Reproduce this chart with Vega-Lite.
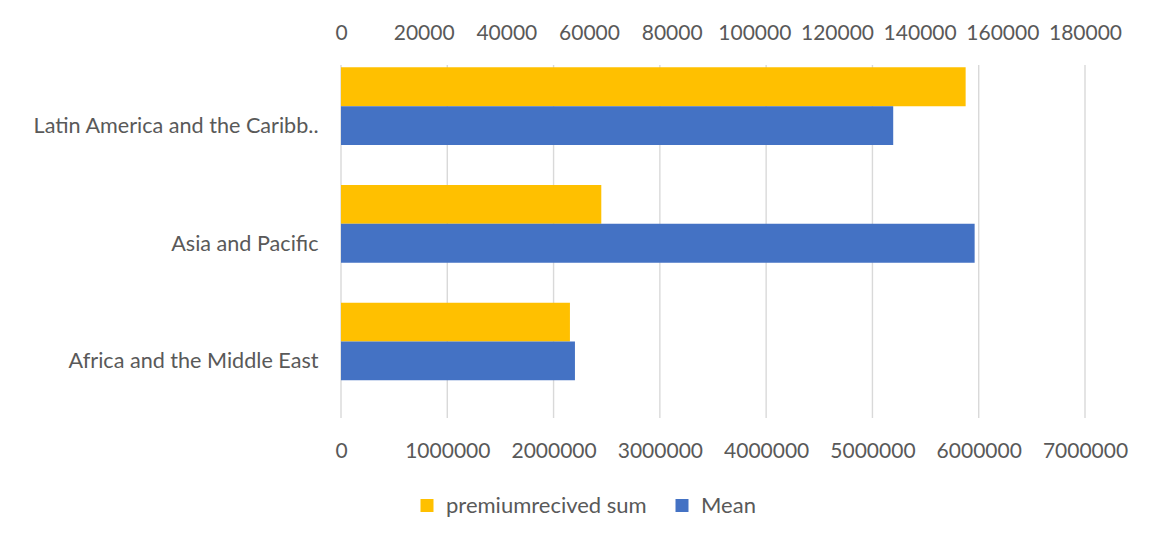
{
  "$schema": "https://vega.github.io/schema/vega-lite/v6.json",
  "width": 744,
  "height": 353,
  "autosize": {"type": "none"},
  "padding": {"left": 341, "top": 65, "right": 68, "bottom": 121},
  "background": "white",
  "config": {
    "view": {"stroke": null},
    "font": "Lato",
    "axis": {"labelFont": "Lato", "labelColor": "#595959", "labelFontSize": 21, "ticks": false, "domain": false}
  },
  "data": {
    "values": [
      {"region": "Latin America and the Caribbean", "series": "premiumrecived sum", "value": 5877000},
      {"region": "Latin America and the Caribbean", "series": "Mean", "value": 133600},
      {"region": "Asia and Pacific", "series": "premiumrecived sum", "value": 2449000},
      {"region": "Asia and Pacific", "series": "Mean", "value": 153300},
      {"region": "Africa and the Middle East", "series": "premiumrecived sum", "value": 2154000},
      {"region": "Africa and the Middle East", "series": "Mean", "value": 56600}
    ]
  },
  "encoding": {
    "y": {
      "field": "region",
      "type": "nominal",
      "sort": ["Latin America and the Caribbean", "Asia and Pacific", "Africa and the Middle East"],
      "scale": {"paddingInner": 0, "paddingOuter": 0},
      "axis": {
        "title": null,
        "labelPadding": 23,
        "labelLimit": 400,
        "labelFontSize": 21.6,
        "labelOffset": 3,
        "labelExpr": "datum.label == 'Latin America and the Caribbean' ? 'Latin America and the Caribb..' : datum.label"
      }
    },
    "yOffset": {
      "field": "series",
      "type": "nominal",
      "scale": {"domain": ["premiumrecived sum", "Mean"], "range": [2.3, 80]}
    },
    "color": {
      "field": "series",
      "type": "nominal",
      "scale": {"domain": ["premiumrecived sum", "Mean"], "range": ["#FFC000", "#4472C4"]},
      "legend": {
        "title": null,
        "orient": "none",
        "direction": "horizontal",
        "legendX": 75,
        "legendY": 429.5,
        "symbolType": "square",
        "symbolSize": 169,
        "symbolStrokeWidth": 0,
        "labelFont": "Lato",
        "labelFontSize": 22,
        "labelColor": "#595959",
        "labelLimit": 400,
        "columnPadding": 24,
        "labelOffset": 8
      }
    }
  },
  "layer": [
    {
      "mark": {"type": "rule", "color": "#D9D9D9", "strokeWidth": 1.4},
      "data": {"values": [{"g": 0}, {"g": 1000000}, {"g": 2000000}, {"g": 3000000}, {"g": 4000000}, {"g": 5000000}, {"g": 6000000}, {"g": 7000000}]},
      "encoding": {
        "x": {"field": "g", "type": "quantitative", "scale": {"domain": [0, 7000000], "nice": false}, "axis": null},
        "y": null, "yOffset": null, "color": null
      }
    },
    {
      "transform": [{"filter": "datum.series == 'premiumrecived sum'"}],
      "mark": {"type": "bar"},
      "encoding": {
        "x": {
          "field": "value",
          "type": "quantitative",
          "scale": {"domain": [0, 7000000], "nice": false},
          "axis": {
            "orient": "bottom",
            "title": null,
            "grid": false,
            "values": [0, 1000000, 2000000, 3000000, 4000000, 5000000, 6000000, 7000000],
            "format": "d",
            "labelPadding": 22,
            "labelFlush": false,
            "labelOverlap": false
          }
        }
      }
    },
    {
      "transform": [{"filter": "datum.series == 'Mean'"}],
      "mark": {"type": "bar"},
      "encoding": {
        "x": {
          "field": "value",
          "type": "quantitative",
          "scale": {"domain": [0, 180000], "nice": false},
          "axis": {
            "orient": "top",
            "title": null,
            "grid": false,
            "values": [0, 20000, 40000, 60000, 80000, 100000, 120000, 140000, 160000, 180000],
            "format": "d",
            "labelPadding": 22,
            "labelFlush": false,
            "labelOverlap": false
          }
        }
      }
    }
  ],
  "resolve": {"scale": {"x": "independent"}, "axis": {"x": "independent"}}
}
